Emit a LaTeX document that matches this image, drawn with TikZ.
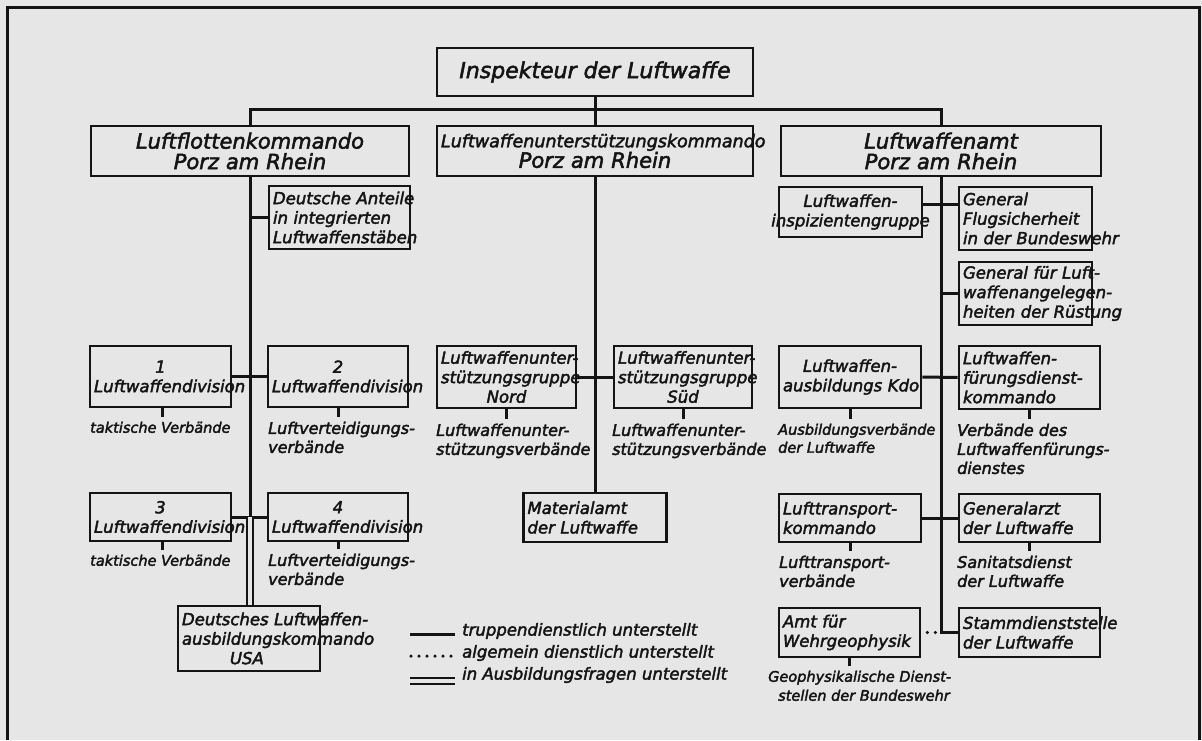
\documentclass[tikz,border=0pt]{standalone}
\usepackage{fontspec}
\setmainfont{DejaVu Sans}[ItalicFeatures={FakeBold=2.4}]
\definecolor{bg}{RGB}{230,230,230}
\definecolor{ink}{RGB}{20,20,20}
\begin{document}
\hyphenpenalty=10000
\exhyphenpenalty=10000
\begin{tikzpicture}[x=1pt,y=-1pt,
  every node/.style={inner sep=0pt, text=ink},
  box/.style={draw=ink, line width=2.6pt, inner xsep=4pt, inner ysep=0pt},
  tbox/.style={box, align=center, font=\itshape\fontsize{21}{20.5}\selectfont},
  sbox/.style={box, font=\itshape\fontsize{16.5}{19.5}\selectfont},
  sub/.style={anchor=north west, align=left, font=\itshape\fontsize{16}{19}\selectfont},
  legtext/.style={anchor=west, font=\itshape\fontsize{16.5}{19}\selectfont},
  conn/.style={draw=ink, line width=3pt},
  tick/.style={draw=ink, line width=3pt, shorten >=5pt},
  dotconn/.style={draw=ink, line width=3.5pt, line cap=round, dash pattern=on 0pt off 8pt},
]
\useasboundingbox (0,0) rectangle (1202,740);
\fill[bg] (0,0) rectangle (1202,740);
% frame
\draw[ink, line width=3pt] (7,740) -- (7,7) -- (1199,7) -- (1199,740);

% top level
\node[tbox, text width=308pt, minimum height=48pt] (insp) at (595,72) {\fontsize{22}{22}\selectfont Inspekteur~der~Luftwaffe};
\node[tbox, text width=310pt, minimum height=50pt] (lfk) at (250,151) {Luftflottenkommando\\Porz~am~Rhein};
\node[tbox, text width=308pt, minimum height=50pt] (lusk) at (595,151) {{\fontsize{17.5}{20}\selectfont Luftwaffenunterstützungskommando}\\Porz~am~Rhein};
\node[tbox, text width=312pt, minimum height=50pt] (lwa) at (941,151) {Luftwaffenamt\\Porz~am~Rhein};

% left column
\node[sbox, align=left, text width=133pt, minimum height=63pt] (dta) at (339.5,217.5) {Deutsche~Anteile\\in~integrierten\\Luftwaffenstäben};
\node[sbox, align=center, text width=133pt, minimum height=61pt] (div1) at (160.5,376.5) {1\\Luftwaffendivision};
\node[sbox, align=center, text width=132pt, minimum height=61pt] (div2) at (338,376.5) {2\\Luftwaffendivision};
\node[sbox, align=center, text width=133pt, minimum height=48pt] (div3) at (160.5,517) {3\\Luftwaffendivision};
\node[sbox, align=center, text width=132pt, minimum height=48pt] (div4) at (338,517) {4\\Luftwaffendivision};
\node[sbox, align=left, text width=134pt, minimum height=65pt] (usa) at (249,638.5) {Deutsches~Luftwaffen-\\ausbildungskommando\\\hspace*{48pt}USA};

\node[sub, font=\itshape\fontsize{14.5}{19}\selectfont] (l1) at (90,421.5) {taktische~Verbände};
\node[sub] (l2) at (268,421.5) {Luftverteidigungs-\\verbände};
\node[sub, font=\itshape\fontsize{14.5}{19}\selectfont] (l3) at (90,554.5) {taktische~Verbände};
\node[sub] (l4) at (268,553.5) {Luftverteidigungs-\\verbände};

% middle column
\node[sbox, align=center, text width=131pt, minimum height=62pt] (nord) at (506.5,377) {Luftwaffenunter-\\stützungsgruppe\\Nord};
\node[sbox, align=center, text width=130pt, minimum height=62pt] (sued) at (683,377) {Luftwaffenunter-\\stützungsgruppe\\Süd};
\node[sbox, align=left, text width=135pt, minimum height=49pt] (matamt) at (595,517.5) {Materialamt\\der~Luftwaffe};
\node[sub] (lnord) at (436,423.5) {Luftwaffenunter-\\stützungsverbände};
\node[sub] (lsued) at (612,423.5) {Luftwaffenunter-\\stützungsverbände};

% right column
\node[sbox, align=center, text width=135pt, minimum height=50pt] (igr) at (850.5,212) {Luftwaffen-\\\makebox[\linewidth][c]{inspizientengruppe}};
\node[sbox, align=left, text width=125pt, minimum height=63pt] (genflug) at (1025.5,218.5) {General\\Flugsicherheit\\in~der~Bundeswehr};
\node[sbox, align=left, text width=125pt, minimum height=63pt] (genruest) at (1025.5,293.5) {General~für~Luft-\\waffenangelegen-\\heiten~der~Rüstung};
\node[sbox, align=center, text width=134pt, minimum height=62pt] (ausbkdo) at (850,377) {Luftwaffen-\\ausbildungs~Kdo};
\node[sbox, align=left, text width=133pt, minimum height=63pt] (fuehr) at (1029.5,377.5) {Luftwaffen-\\fürungsdienst-\\kommando};
\node[sbox, align=left, text width=134pt, minimum height=48pt] (lutrans) at (850,518) {Lufttransport-\\kommando};
\node[sbox, align=left, text width=133pt, minimum height=48pt] (genarzt) at (1029.5,518) {Generalarzt\\der~Luftwaffe};
\node[sbox, align=left, text width=133pt, minimum height=49pt] (geophys) at (849.5,632.5) {Amt~für\\Wehrgeophysik};
\node[sbox, align=left, text width=133pt, minimum height=49pt] (stamm) at (1029.5,632.5) {Stammdienststelle\\der~Luftwaffe};

\node[sub, font=\itshape\fontsize{14.5}{18}\selectfont] (lausb) at (778,423.5) {Ausbildungsverbände\\der~Luftwaffe};
\node[sub] (lfuehr) at (957,423.5) {Verbände~des\\Luftwaffenfürungs-\\dienstes};
\node[sub] (ltrans) at (779,555.5) {Lufttransport-\\verbände};
\node[sub] (larzt) at (957,555.5) {Sanitatsdienst\\der~Luftwaffe};
\node[sub, font=\itshape\fontsize{14.5}{19}\selectfont] (lgeo) at (768,670.5) {Geophysikalische~Dienst-\\\hspace*{10pt}stellen~der~Bundeswehr};

% legend
\node[legtext] (t1) at (462,631) {truppendienstlich unterstellt};
\node[legtext] (t2) at (462,653) {algemein dienstlich unterstellt};
\node[legtext] (t3) at (462,675) {in Ausbildungsfragen unterstellt};
\draw[conn] (410,634) -- (455,634);
\draw[dotconn] (411,656) -- (456,656);
\draw[draw=ink, line width=2pt] (410,678) -- (455,678) (410,684) -- (455,684);

% connectors: top
\path (insp.south) ++(0,12) coordinate (bar);
\draw[conn] (insp.south) -- (lusk.north);
\draw[conn] (lfk.north) |- (bar) -| (lwa.north);

% left spine
\coordinate (j) at (lfk.south |- div3.east);
\draw[conn] (lfk.south) -- (j);
\draw[conn] (dta.west) -- (dta.west -| lfk.south);
\draw[conn] (div1.east) -- (div2.west);
\draw[conn] (div3.east) -- (div4.west);
\draw[draw=ink, line width=2pt, double=bg, double distance=3.5pt] (j) -- (j |- usa.north);
\draw[tick] ([xshift=1.5pt]div1.south) -- ([xshift=1.5pt]div1.south |- l1.north);
\draw[tick] (div2.south) -- (div2.south |- l2.north);
\draw[tick] ([xshift=1.5pt]div3.south) -- ([xshift=1.5pt]div3.south |- l3.north);
\draw[tick] (div4.south) -- (div4.south |- l4.north);

% middle spine
\draw[conn] (lusk.south) -- (matamt.north);
\draw[conn] (nord.east) -- (sued.west);
\draw[tick] (nord.south) -- (nord.south |- lnord.north);
\draw[tick] (sued.south) -- (sued.south |- lsued.north);

% right spine
\draw[conn] (lwa.south) |- (stamm.west);
\draw[conn] ([yshift=8pt]igr.east) -- ([yshift=8pt]igr.east -| genflug.west);
\draw[conn] (genruest.west) -- (genruest.west -| lwa.south);
\draw[conn] (ausbkdo.east) -- (fuehr.west);
\draw[conn] (lutrans.east) -- (genarzt.west);
\draw[dotconn] ([xshift=6pt]geophys.east) -- ([xshift=-5pt]geophys.east -| lwa.south);
\draw[tick] (ausbkdo.south) -- (ausbkdo.south |- lausb.north);
\draw[tick] (fuehr.south) -- (fuehr.south |- lfuehr.north);
\draw[tick] (lutrans.south) -- (lutrans.south |- ltrans.north);
\draw[tick] (genarzt.south) -- (genarzt.south |- larzt.north);
\draw[tick] (geophys.south) -- (geophys.south |- lgeo.north);
\end{tikzpicture}
\end{document}
